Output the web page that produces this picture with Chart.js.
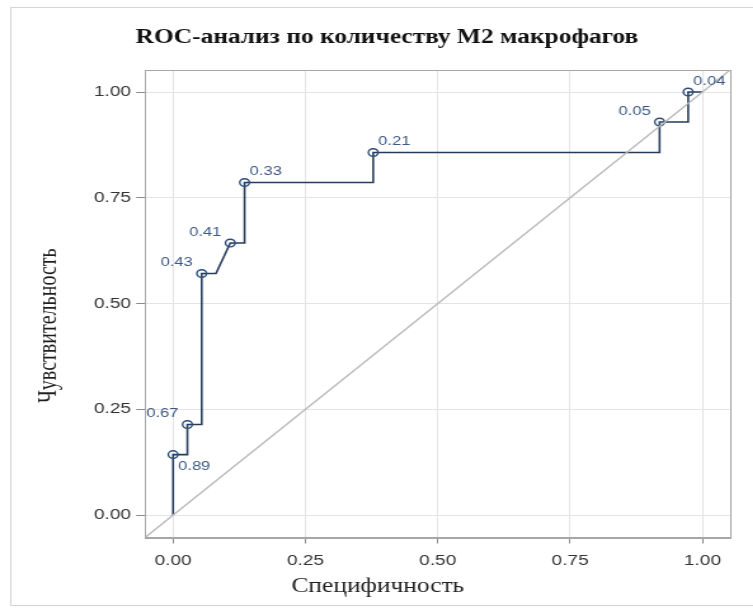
<!DOCTYPE html>
<html>
<head>
<meta charset="utf-8">
<script src="https://cdn.jsdelivr.net/npm/chart.js@4.4.0/dist/chart.umd.min.js"></script>
<style>
  html, body { margin: 0; padding: 0; background: #fff; overflow: hidden; }
  /* the plot is rendered narrow and widened, like the exported figure */
  #roc { display: block; transform: scaleX(1.27); transform-origin: 0 0; }
</style>
</head>
<body>
<canvas id="roc" width="593" height="608"></canvas>
<script>
// empirical ROC curve vertices (1 - specificity, sensitivity)
const fprPoints = [0, 0, 0.027, 0.027, 0.054, 0.054, 0.081, 0.108, 0.135, 0.135, 0.378, 0.378, 0.919, 0.919, 0.973, 0.973, 1.0];
const tprPoints = [0, 0.143, 0.143, 0.214, 0.214, 0.571, 0.571, 0.643, 0.643, 0.786, 0.786, 0.857, 0.857, 0.929, 0.929, 1.0, 1.0];
// cut-off value at each marked vertex (null = no marker)
const cutoffs = [null, 0.89, null, 0.67, null, 0.43, null, 0.41, null, 0.33, null, 0.21, null, 0.05, null, 0.04, null];
// where each cut-off label sits around its marker, in order of the marked vertices
const labelSpots = ['se', 'nw', 'nw', 'nw', 'ne', 'ne', 'nw', 'ne'];

const axisTicks = [0, 0.25, 0.5, 0.75, 1];
const axisMin = -0.053;
const axisMax = 1.052;

const chartTitle = 'ROC-анализ по количеству M2 макрофагов';
const xTitle = 'Специфичность';
const yTitle = 'Чувствительность';

const rocData = fprPoints.map((x, i) => ({ x: x, y: tprPoints[i] }));
const diagonal = [{ x: axisMin, y: axisMin }, { x: axisMax, y: axisMax }];

const serif = "'Times New Roman', 'Liberation Serif', serif";
const sans = "Arial, 'Liberation Sans', sans-serif";

// outer border, plot frame and the two axis captions
const framePlugin = {
  id: 'frame',
  beforeDraw(chart) {
    const ctx = chart.ctx;
    ctx.save();
    ctx.strokeStyle = '#d4d4d4';
    ctx.lineWidth = 1;
    ctx.strokeRect(8.5, 7.5, chart.width + 20, 598);
    ctx.restore();
  },
  beforeDatasetsDraw(chart) {
    const a = chart.chartArea;
    const ctx = chart.ctx;
    ctx.save();
    ctx.strokeStyle = '#a6a6a6';
    ctx.lineWidth = 1;
    ctx.strokeRect(Math.round(a.left) + 0.5, Math.round(a.top) + 0.5,
      Math.round(a.right - a.left), Math.round(a.bottom - a.top));
    ctx.restore();
  },
  afterDraw(chart) {
    const a = chart.chartArea;
    const ctx = chart.ctx;
    ctx.save();
    ctx.fillStyle = '#1e1e1e';
    ctx.font = '20px ' + serif;
    ctx.textAlign = 'center';
    ctx.textBaseline = 'middle';
    ctx.fillText(xTitle, chart.width / 2 + 1, a.bottom + 49);
    ctx.translate(39, (a.top + a.bottom) / 2 + 22);
    ctx.rotate(-Math.PI / 2);
    ctx.fillText(yTitle, 0, 0);
    ctx.restore();
  }
};

// cut-off values written next to their markers
const cutoffLabels = {
  id: 'cutoffLabels',
  afterDatasetsDraw(chart) {
    const meta = chart.getDatasetMeta(1);
    const ctx = chart.ctx;
    ctx.save();
    ctx.font = '13px ' + sans;
    ctx.fillStyle = '#3b5886';
    ctx.textBaseline = 'middle';
    let k = 0;
    cutoffs.forEach((c, i) => {
      if (c === null) return;
      const pt = meta.data[i];
      const spot = labelSpots[k++];
      let dx = 4, dy = -11;
      ctx.textAlign = 'left';
      if (spot === 'nw') { ctx.textAlign = 'right'; dx = -7; dy = -11; }
      if (spot === 'se') { dx = 4; dy = 12; }
      ctx.fillText(c.toFixed(2), pt.x + dx, pt.y + dy);
    });
    ctx.restore();
  }
};

new Chart(document.getElementById('roc'), {
  type: 'scatter',
  data: {
    datasets: [
      {
        data: diagonal,
        showLine: true,
        borderColor: '#b8b8b8',
        borderWidth: 1.4,
        pointRadius: 0
      },
      {
        data: rocData,
        showLine: true,
        borderColor: '#263c5a',
        borderWidth: 1.6,
        pointRadius: cutoffs.map(c => c === null ? 0 : 3.8),
        pointBorderColor: '#2b4c7c',
        pointBorderWidth: 1.4,
        pointBackgroundColor: 'rgba(255,255,255,0)'
      }
    ]
  },
  options: {
    responsive: false,
    animation: false,
    devicePixelRatio: 1,
    layout: { padding: { left: 34.6, right: 18.2, top: 0, bottom: 0 } },
    plugins: {
      legend: { display: false },
      tooltip: { enabled: false },
      title: {
        display: true,
        text: chartTitle,
        color: '#111',
        font: { family: serif, size: 20, weight: 'bold' },
        padding: { top: 26, bottom: 20 }
      }
    },
    scales: {
      x: {
        type: 'linear',
        min: axisMin,
        max: axisMax,
        afterFit(scale) { scale.height = 70.5; },
        afterBuildTicks(scale) { scale.ticks = axisTicks.map(v => ({ value: v })); },
        grid: { color: '#e4e4e4', tickColor: '#8a8a8a', tickLength: 6 },
        border: { color: '#a6a6a6' },
        ticks: {
          padding: 8,
          color: '#333',
          font: { family: sans, size: 15 },
          callback: v => v.toFixed(2)
        }
      },
      y: {
        type: 'linear',
        min: axisMin,
        max: axisMax,
        afterFit(scale) { scale.width = 79.6; },
        afterBuildTicks(scale) { scale.ticks = axisTicks.map(v => ({ value: v })); },
        grid: { color: '#e4e4e4', tickColor: '#8a8a8a', tickLength: 7 },
        border: { color: '#a6a6a6' },
        ticks: {
          padding: 4,
          color: '#333',
          font: { family: sans, size: 15 },
          callback: v => v.toFixed(2)
        }
      }
    }
  },
  plugins: [framePlugin, cutoffLabels]
});
</script>
</body>
</html>
